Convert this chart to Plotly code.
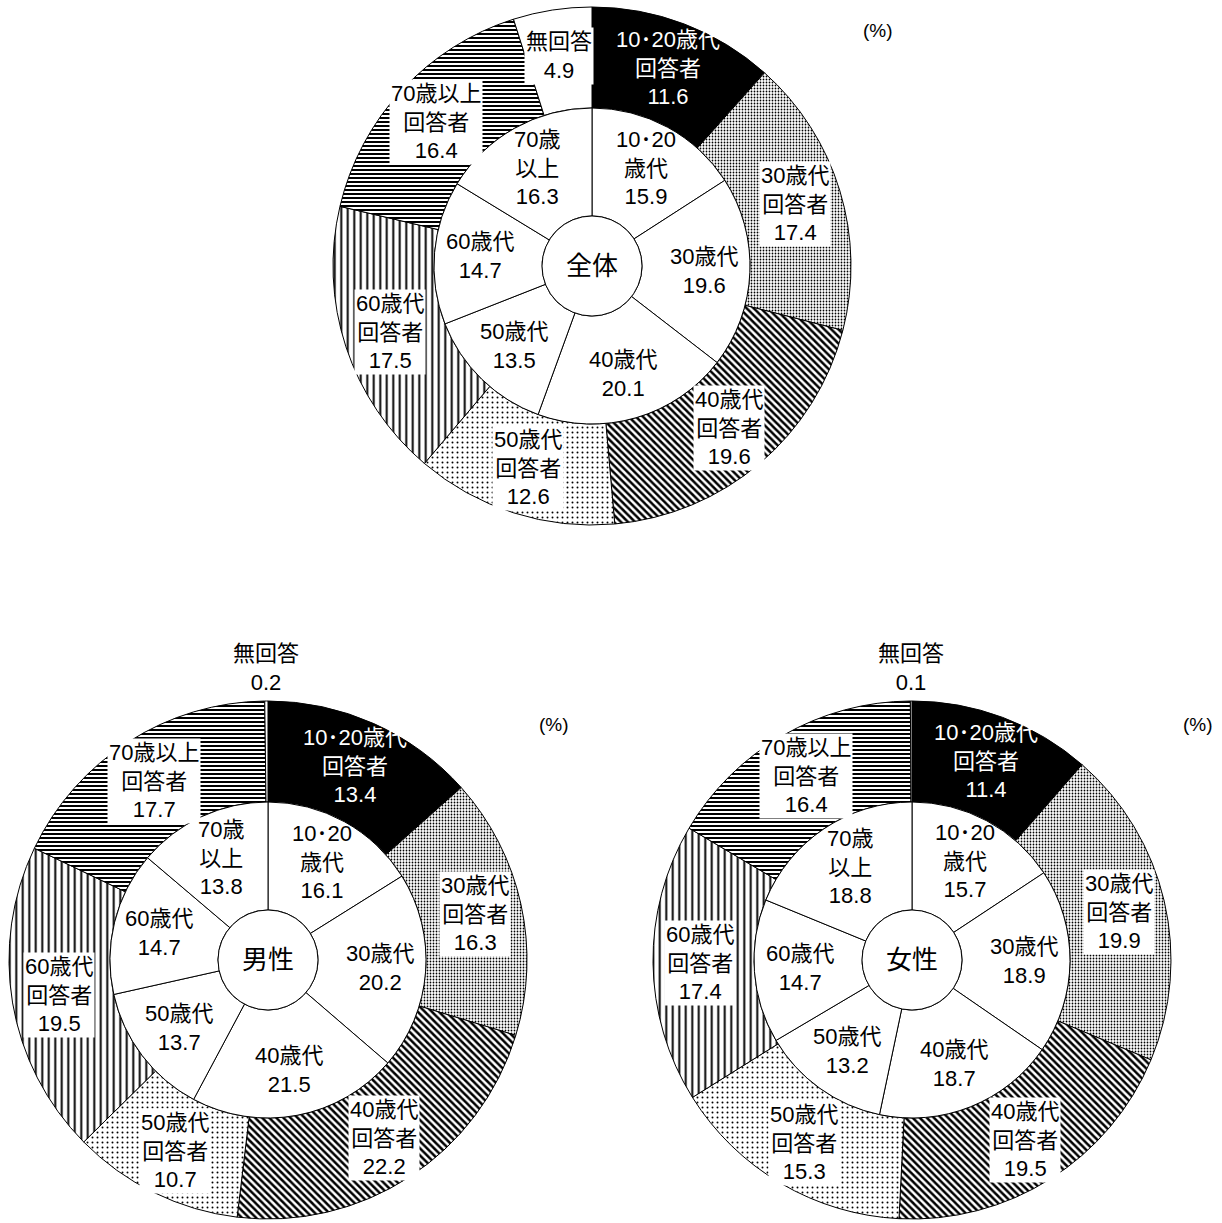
import math
import plotly.graph_objects as go

# ---------------- data ----------------
outer_labels = ["10･20歳代<br>回答者", "30歳代<br>回答者", "40歳代<br>回答者",
                "50歳代<br>回答者", "60歳代<br>回答者", "70歳以上<br>回答者", "無回答"]
inner_labels = ["10･20<br>歳代", "30歳代", "40歳代", "50歳代", "60歳代", "70歳<br>以上"]

total_outer = [11.6, 17.4, 19.6, 12.6, 17.5, 16.4, 4.9]
total_inner = [15.9, 19.6, 20.1, 13.5, 14.7, 16.3]
male_outer = [13.4, 16.3, 22.2, 10.7, 19.5, 17.7, 0.2]
male_inner = [16.1, 20.2, 21.5, 13.7, 14.7, 13.8]
female_outer = [11.4, 19.9, 19.5, 15.3, 17.4, 16.4, 0.1]
female_inner = [15.7, 18.9, 18.7, 13.2, 14.7, 18.8]

group_names = ["全体", "男性", "女性"]
unit_label = "(%)"

# ---------------- layout / style ----------------
W, H = 1222, 1223
FONT = "Liberation Sans, Arial, Noto Sans CJK JP"
centers = [(592, 266), (268, 960), (912, 960)]
R_OUT, R_IN, R_C = 259, 158, 50

slice_colors = ["black", "white", "white", "white", "white", "white", "white"]
pat_shapes = ["", ".", "\\", ".", "|", "-", ""]
pat_sizes = [6, 3, 5, 5, 6.5, 4, 6]
pat_solid = [0.3, 0.28, 0.5, 0.12, 0.3, 0.5, 0.3]

groups = [
    (total_outer, total_inner),
    (male_outer, male_inner),
    (female_outer, female_inner),
]


def domain(cx, cy, r):
    return dict(x=[(cx - r) / W, (cx + r) / W], y=[1 - (cy + r) / H, 1 - (cy - r) / H])


def pos(cx, cy, r, frac):
    th = 2 * math.pi * frac
    return (cx + r * math.sin(th)) / W, 1 - (cy - r * math.cos(th)) / H


def mids(values):
    tot = sum(values)
    out, acc = [], 0.0
    for v in values:
        out.append((acc + v / 2) / tot)
        acc += v
    return out


fig = go.Figure()
annotations = []

for (cx, cy), name, (ov, iv) in zip(centers, group_names, groups):
    fig.add_trace(go.Pie(
        values=ov, labels=[l.replace("<br>", "") for l in outer_labels],
        sort=False, direction="clockwise", rotation=0,
        hole=R_IN / R_OUT, domain=domain(cx, cy, R_OUT),
        marker=dict(colors=slice_colors, line=dict(color="black", width=1),
                    pattern=dict(shape=pat_shapes, size=pat_sizes, solidity=pat_solid,
                                 fgcolor="black", fillmode="replace")),
        textinfo="none", hoverinfo="skip", showlegend=False,
    ))
    fig.add_trace(go.Pie(
        values=iv, labels=[l.replace("<br>", "") for l in inner_labels],
        sort=False, direction="clockwise", rotation=0,
        hole=R_C / R_IN, domain=domain(cx, cy, R_IN),
        marker=dict(colors=["white"] * len(iv), line=dict(color="black", width=1)),
        textinfo="none", hoverinfo="skip", showlegend=False,
    ))
    fig.add_trace(go.Pie(
        values=[1], labels=[name], domain=domain(cx, cy, R_C),
        marker=dict(colors=["white"], line=dict(color="black", width=1)),
        textinfo="none", hoverinfo="skip", showlegend=False,
    ))

    # outer labels
    for i, (lab, v, m) in enumerate(zip(outer_labels, ov, mids(ov))):
        small = v < 1
        r = R_OUT + 33 if small else 0.82 * R_OUT
        x, y = pos(cx, cy, r, m)
        dark = slice_colors[i] == "black"
        annotations.append(dict(
            x=x, y=y, xref="paper", yref="paper", showarrow=False,
            text=f"{lab}<br>{v:.1f}", align="center",
            font=dict(family=FONT, size=22, color="white" if dark else "black"),
            bgcolor=None if dark else "white", borderpad=1,
            xanchor="center", yanchor="middle",
        ))
    # inner labels
    for lab, v, m in zip(inner_labels, iv, mids(iv)):
        x, y = pos(cx, cy, (R_C + R_IN) / 2 + 8, m)
        annotations.append(dict(
            x=x, y=y, xref="paper", yref="paper", showarrow=False,
            text=f"{lab}<br>{v:.1f}", align="center",
            font=dict(family=FONT, size=22, color="black"),
            xanchor="center", yanchor="middle",
        ))
    # center name
    annotations.append(dict(
        x=cx / W, y=1 - cy / H, xref="paper", yref="paper", showarrow=False,
        text=name, font=dict(family=FONT, size=26, color="black"),
        xanchor="center", yanchor="middle",
    ))
    # unit
    annotations.append(dict(
        x=(cx + 286) / W, y=1 - (cy - 236) / H, xref="paper", yref="paper", showarrow=False,
        text=unit_label, font=dict(family=FONT, size=19, color="black"),
        xanchor="center", yanchor="middle",
    ))

fig.update_layout(
    width=W, height=H, autosize=False,
    margin=dict(l=0, r=0, t=0, b=0),
    paper_bgcolor="white", plot_bgcolor="white",
    annotations=annotations,
    font=dict(family=FONT),
)

fig.write_html(
    "out.html",
    config={"displayModeBar": False},
    post_script="document.body.style.margin='0';document.body.style.overflow='hidden';",
)
